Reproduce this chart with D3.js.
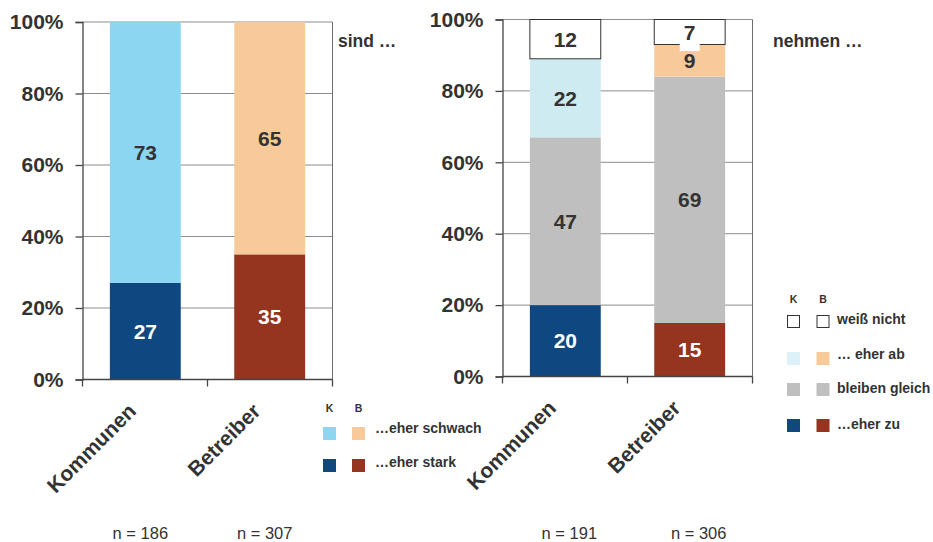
<!DOCTYPE html>
<html>
<head>
<meta charset="utf-8">
<script src="https://cdn.jsdelivr.net/npm/d3@7"></script>
<style>
  html, body { margin: 0; padding: 0; background: #fff; }
  svg { display: block; font-family: "Liberation Sans", Arial, Helvetica, sans-serif; }
</style>
</head>
<body>
<svg id="chart" width="933" height="542"></svg>
<script>
// Groups compared in both panels
const categories = ["Kommunen", "Betreiber"];
const yTicks = [0, 20, 40, 60, 80, 100];

// Panel 1: the effect "sind …" (percent)
const strengthKeys = ["stark", "schwach"];
const strengthStrong = [27, 35];
const strengthWeak = [73, 65];
const strengthN = [186, 307];

// Panel 2: the effect "nehmen …" (percent)
const trendKeys = ["zu", "gleich", "ab", "weissnicht"];
const trendIncrease = [20, 15];
const trendSame = [47, 69];
const trendDecrease = [22, 9];
const trendUnknown = [12, 7];
const trendN = [191, 306];

// Fill colours per category (Kommunen, Betreiber)
const colors = {
  stark:      ["#0f4781", "#95341f"],
  schwach:    ["#8dd6f2", "#f8ca99"],
  zu:         ["#0f4781", "#95341f"],
  gleich:     ["#bfbfbf", "#bfbfbf"],
  ab:         ["#cdebf1", "#f8ca99"],
  weissnicht: ["#ffffff", "#ffffff"]
};
const legendColors = { ab: ["#ddf1f9", "#f8ca99"] };
const darkKeys = new Set(["stark", "zu"]);

const svg = d3.select("#chart");
const textColor = "#333333";

function rows(keys, arrays, nList) {
  return categories.map((c, i) => {
    const r = { category: c, n: nList[i], index: i };
    keys.forEach((k, j) => { r[k] = arrays[j][i]; });
    return r;
  });
}

function drawPanel(opt) {
  const g = svg.append("g");
  const x = d3.scaleBand().domain(categories).range([opt.x0, opt.x1])
    .paddingInner(0.43).paddingOuter(0.22);
  const y = d3.scaleLinear().domain([0, 100]).range([opt.yBottom, opt.yTop]).clamp(true);

  // horizontal gridlines
  g.append("g").selectAll("line").data(yTicks).join("line")
    .attr("x1", opt.x0).attr("x2", opt.x1)
    .attr("y1", d => y(d)).attr("y2", d => y(d))
    .attr("stroke", "#8c8c8c").attr("stroke-width", 1);

  // right border
  g.append("line")
    .attr("x1", opt.x1).attr("x2", opt.x1).attr("y1", y(100)).attr("y2", y(0))
    .attr("stroke", "#6e6e6e").attr("stroke-width", 1);

  // stacked bars
  const stacked = d3.stack().keys(opt.keys)(opt.data);
  const layers = g.append("g").selectAll("g").data(stacked).join("g");
  layers.selectAll("rect").data(s => s.map(d => ({ key: s.key, d }))).join("rect")
    .attr("x", p => x(p.d.data.category))
    .attr("width", x.bandwidth())
    .attr("y", p => y(p.d[1]))
    .attr("height", p => y(p.d[0]) - y(p.d[1]))
    .attr("fill", p => colors[p.key][p.d.data.index])
    .attr("stroke", p => p.key === "weissnicht" ? "#333" : "none")
    .attr("stroke-width", 1);

  // value labels
  const labels = [];
  stacked.forEach(s => s.forEach(d => {
    const top = Math.min(d[1], 100);
    labels.push({ key: s.key, value: d.data[s.key], cx: x(d.data.category) + x.bandwidth() / 2,
      cy: (y(d[0]) + y(top)) / 2, small: (y(d[0]) - y(top)) < 28 });
  }));
  const lg = g.append("g");
  labels.filter(l => l.small && l.key === "weissnicht").forEach(l => {
    lg.append("rect").attr("x", l.cx - 10).attr("y", l.cy - 12)
      .attr("width", 20).attr("height", 31).attr("fill", "#fff");
  });
  lg.selectAll("text").data(labels).join("text")
    .attr("x", l => l.cx).attr("y", l => l.cy)
    .attr("dy", "0.36em").attr("text-anchor", "middle")
    .attr("font-size", 21).attr("font-weight", "bold")
    .attr("fill", l => darkKeys.has(l.key) ? "#ffffff" : textColor)
    .text(l => l.value);

  // y axis
  const yAxis = g.append("g").attr("transform", `translate(${opt.x0},0)`)
    .call(d3.axisLeft(y).tickValues(yTicks).tickFormat(d => d + "%").tickSize(7).tickPadding(12));
  yAxis.select(".domain").attr("stroke", "#444").attr("stroke-width", 1.3);
  yAxis.selectAll(".tick line").attr("stroke", "#444").attr("stroke-width", 1.3);
  yAxis.selectAll(".tick text").attr("font-size", 21).attr("font-weight", "bold")
    .attr("fill", textColor).attr("font-family", "inherit");

  // x axis line and separators
  const xg = g.append("g");
  xg.append("line").attr("x1", opt.x0).attr("x2", opt.x1)
    .attr("y1", y(0)).attr("y2", y(0)).attr("stroke", "#444").attr("stroke-width", 1.3);
  xg.selectAll("line.sep").data([opt.x0, (opt.x0 + opt.x1) / 2, opt.x1]).join("line")
    .attr("class", "sep").attr("x1", d => d).attr("x2", d => d)
    .attr("y1", y(0)).attr("y2", y(0) + 7).attr("stroke", "#444").attr("stroke-width", 1.3);

  // category labels, rotated
  xg.selectAll("text.cat").data(categories).join("text")
    .attr("class", "cat")
    .attr("transform", c => `translate(${x(c) + x.bandwidth() / 2 - 8},${opt.yBottom + 33}) rotate(-45)`)
    .attr("text-anchor", "end").attr("font-size", 21).attr("font-weight", "bold")
    .attr("fill", textColor).text(c => c);

  // sample sizes
  xg.selectAll("text.n").data(opt.data).join("text")
    .attr("class", "n")
    .attr("x", d => x(d.category) + x.bandwidth() / 2 + opt.nShift[d.index])
    .attr("y", 539).attr("text-anchor", "middle")
    .attr("font-size", 16.5).attr("fill", textColor)
    .text(d => "n = " + d.n);

  // panel heading
  g.append("text").attr("x", opt.titleX).attr("y", 47)
    .attr("font-size", 17.5).attr("font-weight", "bold").attr("fill", textColor)
    .text(opt.title);
}

function drawLegend(opt) {
  const g = svg.append("g");
  g.selectAll("text.h").data(["K", "B"]).join("text").attr("class", "h")
    .attr("x", (d, i) => opt.x + 6.5 + i * opt.dx).attr("y", opt.headY)
    .attr("text-anchor", "middle").attr("font-size", 10.5).attr("font-weight", "bold")
    .attr("fill", textColor).text(d => d);
  opt.items.forEach((it, r) => {
    const yy = opt.rowY[r];
    [0, 1].forEach(i => {
      const fill = (legendColors[it.key] || colors[it.key])[i];
      g.append("rect")
        .attr("x", opt.x + i * opt.dx + (it.outline ? 0.5 : 0)).attr("y", yy + (it.outline ? 0.5 : 0))
        .attr("width", it.outline ? 12 : 13).attr("height", it.outline ? 12 : 13)
        .attr("fill", fill)
        .attr("stroke", it.outline ? "#333" : "none").attr("stroke-width", 1);
    });
    g.append("text").attr("x", opt.textX).attr("y", yy + it.dy)
      .attr("font-size", 14).attr("font-weight", "bold").attr("fill", textColor)
      .text(it.label);
  });
}

drawPanel({
  x0: 82.5, x1: 332.5, yTop: 22, yBottom: 379.5,
  keys: strengthKeys,
  data: rows(strengthKeys, [strengthStrong, strengthWeak], strengthN),
  nShift: [-5, -5],
  title: "sind …", titleX: 338
});

drawPanel({
  x0: 502.5, x1: 752.5, yTop: 19.5, yBottom: 376.5,
  keys: trendKeys,
  data: rows(trendKeys, [trendIncrease, trendSame, trendDecrease, trendUnknown], trendN),
  nShift: [4, 9],
  title: "nehmen …", titleX: 773
});

drawLegend({
  x: 323, dx: 29, headY: 412, textX: 375, rowY: [427, 459],
  items: [
    { key: "schwach", label: "…eher schwach", dy: 6 },
    { key: "stark", label: "…eher stark", dy: 8 }
  ]
});

drawLegend({
  x: 787, dx: 29.5, headY: 303, textX: 837, rowY: [315, 352, 383, 419],
  items: [
    { key: "weissnicht", label: "weiß nicht", dy: 9, outline: true },
    { key: "ab", label: "… eher ab", dy: 7 },
    { key: "gleich", label: "bleiben gleich", dy: 10 },
    { key: "zu", label: "…eher zu", dy: 10 }
  ]
});
</script>
</body>
</html>
